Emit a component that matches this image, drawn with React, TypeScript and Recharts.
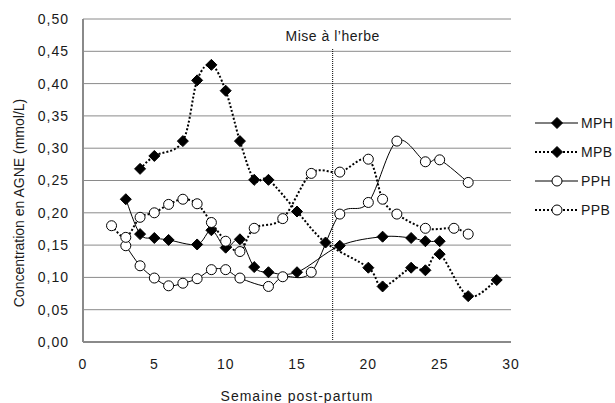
import React from 'react';
import {
  LineChart,
  Line,
  XAxis,
  YAxis,
  CartesianGrid,
  ReferenceLine,
  Legend,
  Label,
} from 'recharts';

// weeks post-partum and NEFA concentration (mmol/L) per group
const MPH_WEEK = [3, 4, 5, 6, 8, 9, 10, 11, 12, 13, 15, 18, 21, 23, 24, 25];
const MPH_VALUE = [0.221, 0.167, 0.161, 0.158, 0.151, 0.173, 0.146, 0.159, 0.116, 0.108, 0.108, 0.149, 0.163, 0.161, 0.156, 0.156];

const MPB_WEEK = [4, 5, 7, 8, 9, 10, 11, 12, 13, 15, 17, 20, 21, 23, 24, 25, 27, 29];
const MPB_VALUE = [0.268, 0.288, 0.311, 0.405, 0.429, 0.389, 0.311, 0.251, 0.251, 0.202, 0.154, 0.115, 0.086, 0.115, 0.111, 0.136, 0.071, 0.096];

const PPH_WEEK = [3, 4, 5, 6, 7, 8, 9, 10, 11, 13, 14, 16, 18, 20, 22, 24, 25, 27];
const PPH_VALUE = [0.149, 0.118, 0.099, 0.087, 0.091, 0.098, 0.112, 0.112, 0.099, 0.086, 0.101, 0.108, 0.198, 0.216, 0.311, 0.279, 0.282, 0.247];

const PPB_WEEK = [2, 3, 4, 5, 6, 7, 8, 9, 10, 11, 12, 14, 16, 18, 20, 21, 22, 24, 26, 27];
const PPB_VALUE = [0.18, 0.162, 0.193, 0.2, 0.213, 0.221, 0.214, 0.185, 0.156, 0.14, 0.176, 0.191, 0.261, 0.263, 0.283, 0.221, 0.198, 0.176, 0.176, 0.167];

const X_TICKS = [0, 5, 10, 15, 20, 25, 30];
const Y_TICKS = [0, 0.05, 0.1, 0.15, 0.2, 0.25, 0.3, 0.35, 0.4, 0.45, 0.5];
const GRAZING_WEEK = 17.5;

const FONT = '"Liberation Sans", Arial, sans-serif';
const GREY = '#8a8a8a';
const TEXT = '#1a1a1a';

const toRows = (weeks: number[], values: number[]) =>
  weeks.map((week, i) => ({ week, value: values[i] }));

type Marker = 'diamond' | 'circle';

const SERIES: { name: string; rows: { week: number; value: number }[]; marker: Marker; dotted: boolean }[] = [
  { name: 'MPH', rows: toRows(MPH_WEEK, MPH_VALUE), marker: 'diamond', dotted: false },
  { name: 'MPB', rows: toRows(MPB_WEEK, MPB_VALUE), marker: 'diamond', dotted: true },
  { name: 'PPH', rows: toRows(PPH_WEEK, PPH_VALUE), marker: 'circle', dotted: false },
  { name: 'PPB', rows: toRows(PPB_WEEK, PPB_VALUE), marker: 'circle', dotted: true },
];

// Excel-like smoothed line (Catmull-Rom through the points)
function smoothCurve(context: any) {
  let pts: [number, number][] = [];
  return {
    areaStart() {},
    areaEnd() {},
    lineStart() {
      pts = [];
    },
    point(x: number, y: number) {
      pts.push([+x, +y]);
    },
    lineEnd() {
      if (!pts.length) return;
      context.moveTo(pts[0][0], pts[0][1]);
      for (let i = 0; i < pts.length - 1; i++) {
        const p0 = pts[i - 1] || pts[i];
        const p1 = pts[i];
        const p2 = pts[i + 1];
        const p3 = pts[i + 2] || p2;
        context.bezierCurveTo(
          p1[0] + (p2[0] - p0[0]) / 6,
          p1[1] + (p2[1] - p0[1]) / 6,
          p2[0] - (p3[0] - p1[0]) / 6,
          p2[1] - (p3[1] - p1[1]) / 6,
          p2[0],
          p2[1]
        );
      }
    },
  };
}

function MarkerShape({ cx, cy, marker }: { cx: number; cy: number; marker: Marker }) {
  if (marker === 'diamond') {
    const r = 5.5;
    return (
      <path
        d={`M${cx},${cy - r}L${cx + r},${cy}L${cx},${cy + r}L${cx - r},${cy}Z`}
        fill="#000"
        stroke="#000"
        strokeWidth={1}
      />
    );
  }
  return <circle cx={cx} cy={cy} r={5} fill="#fff" stroke="#000" strokeWidth={1} />;
}

const makeDot = (marker: Marker) => (props: any) => {
  const { cx, cy, key, index } = props;
  if (cx == null || cy == null) return <g key={key ?? index} />;
  return (
    <g key={key ?? `${marker}-${index}`}>
      <MarkerShape cx={cx} cy={cy} marker={marker} />
    </g>
  );
};

function LegendBox() {
  return (
    <div style={{ fontFamily: FONT, fontSize: 14, color: TEXT, letterSpacing: 0.4 }}>
      {SERIES.map((s) => (
        <div key={s.name} style={{ display: 'flex', alignItems: 'center', height: 29 }}>
          <svg width={48} height={16} style={{ display: 'block' }}>
            <line
              x1={2}
              y1={8}
              x2={45}
              y2={8}
              stroke="#000"
              strokeWidth={s.dotted ? 2 : 1}
              strokeDasharray={s.dotted ? '2 2' : undefined}
            />
            <MarkerShape cx={24} cy={8} marker={s.marker} />
          </svg>
          <span>{s.name}</span>
        </div>
      ))}
    </div>
  );
}

const fmt = (v: number) => v.toFixed(2).replace('.', ',');

export default function App() {
  const tickStyle = { fontFamily: FONT, fontSize: 14, fill: TEXT, letterSpacing: 1 };
  return (
    <div style={{ position: 'absolute', left: 0, top: 0, width: 615, height: 403, background: '#fff' }}>
      <LineChart width={615} height={403} margin={{ top: 19, right: 104, bottom: 0, left: 0 }}>
        <CartesianGrid vertical={false} stroke={GREY} strokeWidth={1} />
        <XAxis
          type="number"
          dataKey="week"
          domain={[0, 30]}
          ticks={X_TICKS}
          height={61}
          tickLine={false}
          tickSize={0}
          tickMargin={17}
          axisLine={{ stroke: GREY, strokeWidth: 2 }}
          tick={tickStyle}
          allowDataOverflow
        >
          <Label
            value="Semaine post-partum"
            position="insideBottom"
            offset={2}
            style={{ fontFamily: FONT, fontSize: 14, fill: TEXT, letterSpacing: 1 }}
          />
        </XAxis>
        <YAxis
          type="number"
          domain={[0, 0.5]}
          ticks={Y_TICKS}
          width={83}
          tickLine={false}
          tickSize={0}
          tickMargin={14}
          axisLine={{ stroke: GREY, strokeWidth: 2 }}
          tick={tickStyle}
          tickFormatter={fmt}
        >
          <Label
            content={() => (
              <text
                x={19}
                y={203}
                transform="rotate(-90 19 203)"
                textAnchor="middle"
                dominantBaseline="central"
                style={{ fontFamily: FONT, fontSize: 14, fill: TEXT }}
              >
                Concentration en AGNE (mmol/L)
              </text>
            )}
          />
        </YAxis>
        <ReferenceLine
          segment={[
            { x: GRAZING_WEEK, y: 0 },
            { x: GRAZING_WEEK, y: 0.455 },
          ]}
          stroke="#000"
          strokeWidth={1}
          strokeDasharray="1 1"
          label={{
            value: 'Mise à l’herbe',
            position: 'top',
            offset: 7,
            style: { fontFamily: FONT, fontSize: 14, fill: TEXT, letterSpacing: 0.5 },
          }}
        />
        {SERIES.map((s) => (
          <Line
            key={s.name}
            name={s.name}
            data={s.rows}
            dataKey="value"
            type={smoothCurve as any}
            stroke="#000"
            strokeWidth={s.dotted ? 2 : 1}
            strokeDasharray={s.dotted ? '2 2' : undefined}
            dot={makeDot(s.marker)}
            activeDot={false}
            isAnimationActive={false}
          />
        ))}
        <Legend
          layout="vertical"
          align="center"
          verticalAlign="middle"
          content={() => <LegendBox />}
          wrapperStyle={{ left: 533, top: 108, width: 82 }}
        />
      </LineChart>
    </div>
  );
}
